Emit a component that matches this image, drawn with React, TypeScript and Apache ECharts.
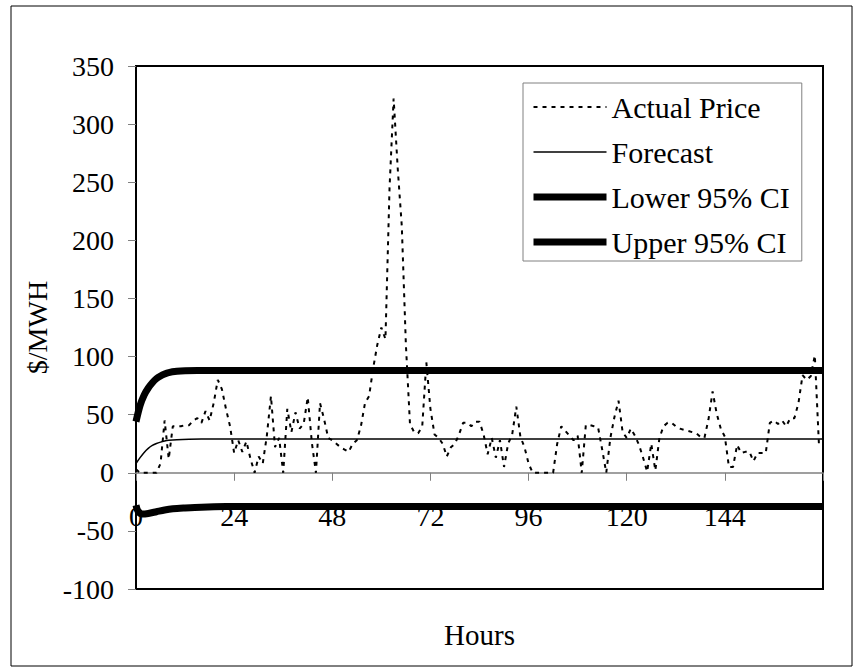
import React, { useEffect, useRef } from "react";
import * as echarts from "echarts";

// Hourly actual price, hours 0..167
const actualPrice: number[] = [
  3, 0, 0, 0, 0, 0, 8, 45, 12, 40,
  40, 40, 41, 41, 45, 47, 43, 53, 45, 60,
  80, 72, 55, 40, 17, 28, 18, 27, 12, 0,
  14, 8, 32, 66, 22, 30, 0, 55, 35, 52,
  38, 42, 65, 26, 0, 60, 46, 30, 28, 25,
  22, 20, 18, 25, 28, 40, 60, 66, 90, 110,
  125, 115, 245, 322, 262, 212, 110, 42, 35, 34,
  40, 95, 55, 33, 30, 25, 14, 22, 25, 33,
  43, 43, 40, 44, 44, 33, 16, 30, 13, 28,
  5, 25, 33, 57, 31, 22, 8, 0, 0, 0,
  0, 0, 0, 25, 40, 36, 32, 28, 32, 0,
  41, 41, 40, 39, 20, 0, 30, 48, 62, 35,
  30, 38, 32, 24, 13, 1, 25, 2, 30, 40,
  43, 43, 40, 38, 37, 36, 35, 34, 31, 30,
  46, 70, 51, 38, 31, 5, 5, 24, 17, 18,
  18, 10, 17, 17, 17, 43, 45, 42, 45, 40,
  47, 47, 60, 84, 80, 83, 101, 25,
];

// [hour, value] points
const forecast: [number, number][] = [
  [0, 8], [1, 13], [2, 17.5], [3, 21], [4, 23.5], [5, 25.2], [6, 26.4],
  [7, 27.3], [8, 27.9], [10, 28.5], [13, 28.9], [16, 29], [168, 29],
];
const upperCI: [number, number][] = [
  [0, 44], [1, 58], [2, 67], [3, 73], [4, 77.5], [5, 81], [6, 83.3],
  [7, 85], [8, 86.2], [10, 87.3], [12, 87.8], [15, 88], [168, 88],
];
const lowerCI: [number, number][] = [
  [0, -28], [0.5, -33], [1.5, -35.5], [3, -35], [5, -33.5], [7, -32],
  [9, -31], [12, -30.3], [16, -29.6], [22, -29.1], [30, -29], [168, -29],
];

const seriesNames = ["Actual Price", "Forecast", "Lower 95% CI", "Upper 95% CI"];
const xTickInterval = 24;
const xMax = 168;
const yMin = -100;
const yMax = 350;
const yInterval = 50;

const FONT = "Liberation Serif, Times New Roman, serif";

const GRID_TOP = 66;
const GRID_BOTTOM = 82;
const CHART_H = 671;

export default function App() {
  const ref = useRef<HTMLDivElement>(null);

  useEffect(() => {
    if (!ref.current) return;
    const chart = echarts.init(ref.current, undefined, { renderer: "svg" });
    const actualData = actualPrice.map((v, i) => [i, v]);
    const legendWidths = [2, 1.5, 7, 7];
    // place the x axis on the zero value of the y axis
    const plotH = CHART_H - GRID_TOP - GRID_BOTTOM;
    const zeroOffset = -((0 - yMin) / (yMax - yMin)) * plotH;
    chart.setOption({
      animation: false,
      backgroundColor: "#fff",
      textStyle: { fontFamily: FONT, color: "#000" },
      grid: {
        left: 136,
        top: GRID_TOP,
        right: 39,
        bottom: GRID_BOTTOM,
        show: true,
        borderColor: "#000",
        borderWidth: 2,
        backgroundColor: "transparent",
        containLabel: false,
        outerBoundsMode: "none",
      },
      legend: {
        orient: "vertical",
        left: 523,
        top: 83,
        padding: [9, 12, 4, 7],
        itemWidth: 73,
        itemHeight: 20,
        itemGap: 15,
        backgroundColor: "#fff",
        borderColor: "#808080",
        borderWidth: 1,
        itemStyle: { opacity: 0, color: "transparent", borderWidth: 0 },
        data: seriesNames.map((n, i) => ({
          name: n,
          lineStyle: { width: legendWidths[i] },
        })),
        textStyle: {
          fontFamily: FONT,
          fontSize: 30,
          lineHeight: 30,
          color: "#000",
          padding: [0, 0, 0, 0],
        },
      },
      xAxis: {
        type: "value",
        position: "bottom",
        offset: zeroOffset,
        min: 0,
        max: xMax,
        interval: xTickInterval,
        name: "Hours",
        nameLocation: "middle",
        nameGap: 148,
        nameTextStyle: { fontFamily: FONT, fontSize: 29, color: "#000" },
        axisLine: { onZero: false, lineStyle: { color: "#808080", width: 1.5 } },
        axisTick: { show: true, length: 8, lineStyle: { color: "#808080", width: 1 } },
        axisLabel: {
          fontFamily: FONT,
          fontSize: 28,
          color: "#000",
          margin: 30,
          formatter: (v: number) => (v >= xMax ? "" : String(v)),
        },
        splitLine: { show: false },
      },
      yAxis: {
        type: "value",
        min: yMin,
        max: yMax,
        interval: yInterval,
        name: "$/MWH",
        nameLocation: "middle",
        nameGap: 82,
        nameRotate: 90,
        nameTextStyle: { fontFamily: FONT, fontSize: 28, color: "#000" },
        axisLine: { show: true, onZero: false, lineStyle: { color: "#000", width: 2 } },
        axisTick: { show: true, length: 8, lineStyle: { color: "#808080", width: 1 } },
        axisLabel: { fontFamily: FONT, fontSize: 28, color: "#000", margin: 22 },
        splitLine: { show: false },
      },
      series: [
        {
          name: seriesNames[0],
          type: "line",
          data: actualData,
          symbol: "none",
          lineStyle: { color: "#000", width: 2, type: [4, 5] },
          itemStyle: { color: "#000" },
        },
        {
          name: seriesNames[1],
          type: "line",
          data: forecast,
          symbol: "none",
          smooth: 0.3,
          lineStyle: { color: "#000", width: 1.5 },
          itemStyle: { color: "#000" },
        },
        {
          name: seriesNames[2],
          type: "line",
          data: lowerCI,
          symbol: "none",
          smooth: 0.3,
          lineStyle: { color: "#000", width: 7 },
          itemStyle: { color: "#000" },
        },
        {
          name: seriesNames[3],
          type: "line",
          data: upperCI,
          symbol: "none",
          smooth: 0.3,
          lineStyle: { color: "#000", width: 7 },
          itemStyle: { color: "#000" },
        },
      ],
      graphic: [
        {
          type: "rect",
          shape: { x: 11, y: 6, width: 841, height: 660 },
          style: { fill: "none", stroke: "#000", lineWidth: 1 },
          silent: true,
          z: 100,
        },
      ],
    });
    return () => chart.dispose();
  }, []);

  return (
    <div
      ref={ref}
      style={{ position: "fixed", left: 0, top: 0, width: 862, height: 671, background: "#fff" }}
    />
  );
}
